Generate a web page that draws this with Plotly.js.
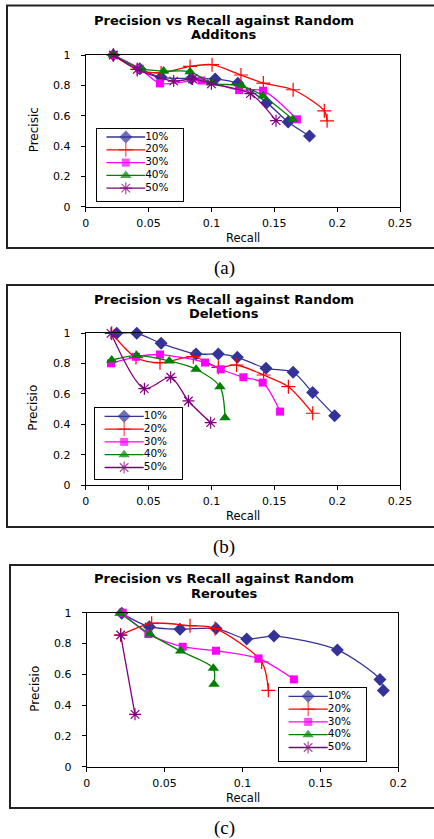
<!DOCTYPE html>
<html>
<head>
<meta charset="utf-8">
<script src="https://cdn.plot.ly/plotly-3.0.1.min.js"></script>
<style>html,body{margin:0;padding:0;background:#fff;}#chart{width:434px;height:839px;}</style>
</head>
<body>
<div id="chart"></div>
<script>
// ---------- data ----------
const seriesNames = ["10%", "20%", "30%", "40%", "50%"];
const panelTitles1 = ["Precision vs Recall against Random", "Precision vs Recall against Random", "Precision vs Recall against Random"];
const panelTitles2 = ["Additons", "Deletions", "Reroutes"];
const captions = ["(a)", "(b)", "(c)"];
const yTitles = ["Precisic", "Precisio", "Precisio"];
const xTitle = "Recall";

// (a) Random Additions
const addRecall10 = [0.022, 0.043, 0.060, 0.084, 0.103, 0.121, 0.144, 0.161, 0.178];
const addPrec10   = [1.000, 0.910, 0.853, 0.845, 0.842, 0.813, 0.686, 0.558, 0.466];
const addRecall20 = [0.022, 0.041, 0.060, 0.083, 0.1005, 0.1235, 0.1413, 0.165, 0.1898, 0.192];
const addPrec20   = [1.000, 0.905, 0.882, 0.925, 0.936, 0.868, 0.815, 0.771, 0.632, 0.566];
const addRecall30 = [0.022, 0.043, 0.059, 0.092, 0.122, 0.141, 0.168];
const addPrec30   = [1.000, 0.910, 0.813, 0.832, 0.769, 0.765, 0.576];
const addRecall40 = [0.022, 0.044, 0.062, 0.083, 0.100, 0.124, 0.141, 0.1647];
const addPrec40   = [1.000, 0.910, 0.894, 0.890, 0.815, 0.797, 0.730, 0.576];
const addRecall50 = [0.022, 0.041, 0.070, 0.085, 0.100, 0.131, 0.1514];
const addPrec50   = [1.000, 0.905, 0.828, 0.842, 0.810, 0.745, 0.567];

// (b) Random Deletions
const delRecall10 = [0.0247, 0.0406, 0.060, 0.0878, 0.1055, 0.1206, 0.1434, 0.165, 0.1805, 0.198];
const delPrec10   = [1.000, 1.000, 0.934, 0.864, 0.864, 0.842, 0.769, 0.743, 0.609, 0.457];
const delRecall20 = [0.0207, 0.040, 0.0591, 0.0856, 0.1055, 0.120, 0.1415, 0.1612, 0.1806];
const delPrec20   = [1.000, 0.840, 0.806, 0.846, 0.776, 0.791, 0.725, 0.648, 0.473];
const delRecall30 = [0.0201, 0.040, 0.0591, 0.0949, 0.1074, 0.1254, 0.1408, 0.1546];
const delPrec30   = [0.802, 0.845, 0.860, 0.807, 0.763, 0.710, 0.675, 0.484];
const delRecall40 = [0.0207, 0.0406, 0.0665, 0.0878, 0.1068, 0.1108];
const delPrec40   = [0.824, 0.853, 0.818, 0.763, 0.648, 0.444];
const delRecall50 = [0.0201, 0.0467, 0.0676, 0.0817, 0.0994];
const delPrec50   = [1.000, 0.635, 0.710, 0.554, 0.411];

// (c) Random Reroutes
const rerRecall10 = [0.0225, 0.0402, 0.0599, 0.083, 0.1027, 0.1202, 0.1609, 0.1882, 0.1904];
const rerPrec10   = [0.996, 0.909, 0.892, 0.898, 0.829, 0.848, 0.758, 0.567, 0.494];
const rerRecall20 = [0.0218, 0.0417, 0.0663, 0.0824, 0.1123, 0.1166];
const rerPrec20   = [0.855, 0.931, 0.916, 0.898, 0.680, 0.496];
const rerRecall30 = [0.0231, 0.0396, 0.0616, 0.083, 0.1102, 0.133];
const rerPrec30   = [1.000, 0.861, 0.779, 0.753, 0.703, 0.567];
const rerRecall40 = [0.0214, 0.0406, 0.0603, 0.0813, 0.0817];
const rerPrec40   = [0.996, 0.861, 0.751, 0.639, 0.535];
const rerRecall50 = [0.0218, 0.031];
const rerPrec50   = [0.855, 0.340];

const xRanges = [[0, 0.25], [0, 0.25], [0, 0.2]];

// ---------- styles ----------
const colors = ["#333399", "#FF0000", "#FF00FF", "#008000", "#800080"];
const symbols = ["diamond", "cross-thin", "square", "triangle-up", "asterisk"];
const msizes = [10, 10, 8, 10, 10];

const W = 434, H = 839;
const fx = p => p / W;
const fy = p => 1 - p / H;

// pixel geometry of each panel
const geo = [
  {pl: 85.7, pr: 400.0, pt: 55.0, pb: 206.7, bx0: 7, bt: 5.5, bb: 248, t1: 21, t2: 35, yt: 33.5, cap: 268,
   lg: {l: 97, r: 183, t: 129, b: 201}},
  {pl: 85.7, pr: 400.0, pt: 333.3, pb: 485.0, bx0: 7, bt: 285, bb: 527, t1: 300, t2: 314, yt: 33.5, cap: 547,
   lg: {l: 95, r: 182, t: 408.3, b: 479.3}},
  {pl: 86.7, pr: 398.3, pt: 612.7, pb: 766.7, bx0: 10, bt: 565, bb: 808, t1: 578, t2: 593, yt: 35, cap: 828,
   lg: {l: 279, r: 366, t: 688.3, b: 760.7}}
];

const panelData = [
  [[addRecall10, addPrec10], [addRecall20, addPrec20], [addRecall30, addPrec30], [addRecall40, addPrec40], [addRecall50, addPrec50]],
  [[delRecall10, delPrec10], [delRecall20, delPrec20], [delRecall30, delPrec30], [delRecall40, delPrec40], [delRecall50, delPrec50]],
  [[rerRecall10, rerPrec10], [rerRecall20, rerPrec20], [rerRecall30, rerPrec30], [rerRecall40, rerPrec40], [rerRecall50, rerPrec50]]
];

function markerFor(i, size) {
  const open = (symbols[i] === "cross-thin" || symbols[i] === "asterisk");
  return {
    symbol: symbols[i], size: size, color: colors[i],
    line: open ? {color: colors[i], width: 1.2} : {width: 0}
  };
}

const traces = [];
const layout = {
  width: W, height: H, autosize: false,
  margin: {l: 0, r: 0, t: 0, b: 0, pad: 0},
  paper_bgcolor: "#ffffff", plot_bgcolor: "#ffffff",
  showlegend: false,
  font: {family: "DejaVu Sans, Arial, sans-serif", color: "#000"},
  annotations: [], shapes: []
};

const tickFont = {family: "DejaVu Sans, sans-serif", size: 11, color: "#000"};

geo.forEach((g, p) => {
  const ax = p + 1;               // data axes 1..3
  const lax = p + 4;              // legend axes 4..6
  const xk = ax === 1 ? "xaxis" : "xaxis" + ax;
  const yk = ax === 1 ? "yaxis" : "yaxis" + ax;
  const xr = ax === 1 ? "x" : "x" + ax;
  const yr = ax === 1 ? "y" : "y" + ax;

  layout[xk] = {
    domain: [fx(g.pl), fx(g.pr)], anchor: yr, range: xRanges[p],
    dtick: 0.05, tick0: 0, showgrid: false, zeroline: false,
    showline: true, mirror: true, linecolor: "#000", linewidth: 1,
    ticks: "outside", ticklen: 4, tickcolor: "#000", tickwidth: 1,
    tickfont: tickFont, ticklabelstandoff: 2, fixedrange: true
  };
  layout[yk] = {
    domain: [fy(g.pb), fy(g.pt)], anchor: xr, range: [0, 1],
    dtick: 0.2, tick0: 0, showgrid: false, zeroline: false,
    showline: true, mirror: true, linecolor: "#000", linewidth: 1,
    ticks: "outside", ticklen: 4, tickcolor: "#000", tickwidth: 1,
    tickfont: tickFont, ticklabelstandoff: 8, fixedrange: true
  };

  panelData[p].forEach((s, i) => {
    traces.push({
      type: "scatter", mode: "lines+markers", name: seriesNames[i],
      x: s[0], y: s[1], xaxis: xr, yaxis: yr,
      line: {color: colors[i], width: 1.3, shape: "spline", smoothing: 0.8},
      marker: markerFor(i, msizes[i]), cliponaxis: false, hoverinfo: "x+y+name"
    });
  });

  // custom compact legend (Excel-like)
  const lxk = "xaxis" + lax, lyk = "yaxis" + lax;
  layout[lxk] = {
    domain: [fx(g.lg.l), fx(g.lg.r)], anchor: "y" + lax, range: [0, 1],
    showgrid: false, zeroline: false, showticklabels: false, ticks: "",
    showline: true, mirror: true, linecolor: "#000", linewidth: 1, fixedrange: true
  };
  const hgt = g.lg.b - g.lg.t;
  layout[lyk] = {
    domain: [fy(g.lg.b), fy(g.lg.t)], anchor: "x" + lax,
    range: [(hgt - 8) / 12.8, -8 / 12.8],
    showgrid: false, zeroline: false, showticklabels: false, ticks: "",
    showline: true, mirror: true, linecolor: "#000", linewidth: 1, fixedrange: true
  };
  seriesNames.forEach((nm, i) => {
    traces.push({
      type: "scatter", mode: "lines+markers+text", name: nm,
      x: [0.11, 0.335, 0.56], y: [i, i, i],
      xaxis: "x" + lax, yaxis: "y" + lax,
      text: ["", "", nm], textposition: "middle right",
      textfont: {family: "DejaVu Sans, sans-serif", size: 10.5, color: "#000"},
      line: {color: colors[i], width: 1.3},
      marker: Object.assign(markerFor(i, msizes[i]), {size: [0, msizes[i], 0]}),
      hoverinfo: "skip", cliponaxis: false
    });
  });

  // outer frame
  layout.shapes.push({
    type: "rect", xref: "paper", yref: "paper",
    x0: fx(g.bx0), x1: fx(440), y0: fy(g.bb), y1: fy(g.bt),
    line: {color: "#222", width: 2}, fillcolor: "rgba(0,0,0,0)"
  });

  const cx = (g.pl + g.pr) / 2;
  const titleFont = {family: "DejaVu Sans, sans-serif", size: 13, color: "#000", weight: 700};
  layout.annotations.push(
    {xref: "paper", yref: "paper", x: fx(223.5), y: fy(g.t1), text: "<b>" + panelTitles1[p] + "</b>",
     showarrow: false, xanchor: "center", yanchor: "middle", font: titleFont},
    {xref: "paper", yref: "paper", x: fx(223.5), y: fy(g.t2), text: "<b>" + panelTitles2[p] + "</b>",
     showarrow: false, xanchor: "center", yanchor: "middle", font: titleFont},
    {xref: "paper", yref: "paper", x: fx(cx), y: fy(g.pb + 31), text: xTitle,
     showarrow: false, xanchor: "center", yanchor: "middle",
     font: {family: "DejaVu Sans, sans-serif", size: 11.5, color: "#000"}},
    {xref: "paper", yref: "paper", x: fx(g.yt), y: fy((g.pt + g.pb) / 2 - 1), text: yTitles[p],
     showarrow: false, xanchor: "center", yanchor: "middle", textangle: -90,
     font: {family: "DejaVu Sans, sans-serif", size: 12, color: "#000"}},
    {xref: "paper", yref: "paper", x: fx(224), y: fy(g.cap), text: captions[p],
     showarrow: false, xanchor: "center", yanchor: "middle",
     font: {family: "Liberation Serif, Times New Roman, serif", size: 19, color: "#000"}}
  );
});

Plotly.newPlot("chart", traces, layout, {displayModeBar: false, staticPlot: true});
</script>
</body>
</html>
